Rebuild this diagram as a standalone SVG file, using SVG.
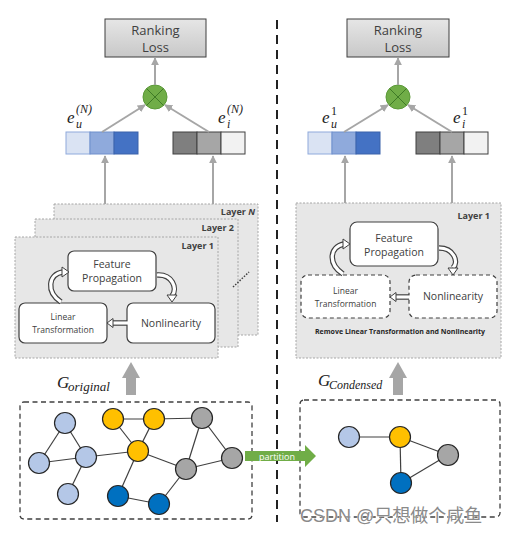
<svg xmlns="http://www.w3.org/2000/svg" width="507" height="535" viewBox="0 0 507 535">
<defs>
<linearGradient id="lossg" x1="0" y1="0" x2="0" y2="1"><stop offset="0" stop-color="#e6e6e6"/><stop offset="1" stop-color="#c8c8c8"/></linearGradient>
<marker id="ah" viewBox="0 0 10 10" refX="9" refY="5" markerWidth="4" markerHeight="4" orient="auto"><path d="M0,0 L10,5 L0,10 z" fill="#a6a6a6"/></marker>
</defs>
<style>
.loss{fill:url(#lossg);stroke:#3f3f3f;stroke-width:1}
.lt{font-family:"Open Sans","Noto Sans",sans-serif;font-size:13px;fill:#404040;text-anchor:middle}
.conn{stroke:#a6a6a6;stroke-width:2;fill:none;marker-end:url(#ah)}
.layer{fill:#e7e7e7;stroke:#a6a6a6;stroke-width:1;stroke-dasharray:2 1.5}
.lname{font-family:"Open Sans","Noto Sans",sans-serif;font-size:9px;font-weight:bold;fill:#404040;text-anchor:end}
.box{fill:#fff;stroke:#404040;stroke-width:1.2}
.dbox{fill:#fff;stroke:#404040;stroke-width:1.2;stroke-dasharray:4 3}
.bt{font-family:"Open Sans","Noto Sans",sans-serif;font-size:10.5px;fill:#404040;text-anchor:middle}
.st{font-family:"Open Sans","Noto Sans",sans-serif;font-size:8.5px;fill:#404040;text-anchor:middle}
.math{font-family:"Liberation Serif",serif;font-style:italic;fill:#222}
.up{font-family:"Liberation Serif",serif;fill:#222}
.hol1{fill:none;stroke:#404040;stroke-width:5.5}
.hol2{fill:none;stroke:#fff;stroke-width:3.2}
.head{fill:#fff;stroke:#404040;stroke-width:1}
.edge{stroke:#404040;stroke-width:1.2}
.n{stroke:#262626;stroke-width:1.2}
.lb{fill:#b4c7e7}.yl{fill:#ffc000}.gr{fill:#a6a6a6}.db{fill:#0070c0}
.gbox{fill:none;stroke:#404040;stroke-width:1.3;stroke-dasharray:5 3.5}
</style>
<rect width="507" height="535" fill="#fff"/>
<line x1="277" y1="20" x2="277" y2="522" stroke="#222" stroke-width="2" stroke-dasharray="9 6"/>

<g id="loss-left"><rect class="loss" x="105" y="19" width="101" height="38"/><text class="lt" x="155.5" y="35">Ranking</text><text class="lt" x="155.5" y="52">Loss</text></g>
<g id="mul-left"><circle cx="155" cy="97" r="12" fill="#70ad47" stroke="#5b9a38" stroke-width="1"/><line x1="146.5" y1="88.5" x2="163.5" y2="105.5" stroke="#3f7a26" stroke-width="1"/><line x1="163.5" y1="88.5" x2="146.5" y2="105.5" stroke="#3f7a26" stroke-width="1"/></g>
<g id="eu-left"><rect x="66" y="132" width="24" height="22" fill="#dae3f3" stroke="#8faadc"/><rect x="90" y="132" width="24" height="22" fill="#8faadc" stroke="#6f8fcc"/><rect x="114" y="132" width="24" height="22" fill="#4472c4" stroke="#3a62aa"/>
<text class="math" x="67" y="123" font-size="17">e</text><text class="math" x="76" y="128" font-size="12">u</text><text class="math" x="76" y="113" font-size="12">(N)</text></g>
<g id="ei-left"><rect x="173" y="132" width="24" height="22" fill="#7f7f7f" stroke="#404040"/><rect x="197" y="132" width="24" height="22" fill="#a6a6a6" stroke="#404040"/><rect x="221" y="132" width="24" height="22" fill="#f2f2f2" stroke="#404040"/>
<text class="math" x="218" y="123" font-size="17">e</text><text class="math" x="227" y="128" font-size="12">i</text><text class="math" x="227" y="113" font-size="12">(N)</text></g>

<g id="layers-left">
<rect class="layer" x="54" y="204" width="204" height="131"/><text class="lname" x="255" y="215">Layer <tspan font-style="italic">N</tspan></text>
<rect class="layer" x="35" y="219" width="203" height="128"/><text class="lname" x="234" y="231">Layer 2</text>
<rect class="layer" x="15" y="237" width="203" height="121"/><text class="lname" x="214" y="249">Layer 1</text>
<line x1="233" y1="287" x2="249" y2="272" stroke="#404040" stroke-width="1.5" stroke-dasharray="1.5 1.5"/>
</g>
<g id="fp-left"><rect class="box" x="68" y="251" width="88" height="40" rx="6"/><text class="bt" x="112" y="268">Feature</text><text class="bt" x="112" y="282">Propagation</text></g>
<g id="lin-left"><rect class="box" x="19" y="303" width="88" height="40" rx="6"/><text class="st" x="63" y="320">Linear</text><text class="st" x="63" y="333">Transformation</text></g>
<g id="non-left"><rect class="box" x="127" y="303" width="88" height="40" rx="6"/><text class="bt" x="171" y="327">Nonlinearity</text></g>

<g id="loss-right"><rect class="loss" x="347" y="19" width="102" height="38"/><text class="lt" x="398" y="35">Ranking</text><text class="lt" x="398" y="52">Loss</text></g>
<g id="mul-right"><circle cx="398" cy="97" r="12" fill="#70ad47" stroke="#5b9a38" stroke-width="1"/><line x1="389.5" y1="88.5" x2="406.5" y2="105.5" stroke="#3f7a26" stroke-width="1"/><line x1="406.5" y1="88.5" x2="389.5" y2="105.5" stroke="#3f7a26" stroke-width="1"/></g>
<g id="eu-right"><rect x="308" y="132" width="24" height="22" fill="#dae3f3" stroke="#8faadc"/><rect x="332" y="132" width="24" height="22" fill="#8faadc" stroke="#6f8fcc"/><rect x="356" y="132" width="24" height="22" fill="#4472c4" stroke="#3a62aa"/>
<text class="math" x="322" y="123" font-size="17">e</text><text class="math" x="331" y="128" font-size="12">u</text><text class="up" x="331" y="115" font-size="12">1</text></g>
<g id="ei-right"><rect x="416" y="132" width="24" height="22" fill="#7f7f7f" stroke="#404040"/><rect x="440" y="132" width="24" height="22" fill="#a6a6a6" stroke="#404040"/><rect x="464" y="132" width="24" height="22" fill="#f2f2f2" stroke="#404040"/>
<text class="math" x="453" y="123" font-size="17">e</text><text class="math" x="462" y="128" font-size="12">i</text><text class="up" x="462" y="115" font-size="12">1</text></g>

<g id="layer-right">
<rect class="layer" x="296" y="203" width="205" height="155"/><text class="lname" x="490" y="219">Layer 1</text>
<text x="400" y="334" font-family="'Open Sans','Noto Sans',sans-serif" font-size="7" font-weight="bold" fill="#262626" text-anchor="middle">Remove Linear Transformation and Nonlinearity</text>
</g>
<g id="fp-right"><rect class="box" x="350" y="222" width="88" height="44" rx="7"/><text class="bt" x="394" y="242">Feature</text><text class="bt" x="394" y="256">Propagation</text></g>
<g id="lin-right"><rect class="dbox" x="301" y="275" width="89" height="43" rx="7"/><text class="st" x="345.5" y="294">Linear</text><text class="st" x="345.5" y="307">Transformation</text></g>
<g id="non-right"><rect class="dbox" x="409" y="275" width="88" height="43" rx="7"/><text class="bt" x="453" y="300">Nonlinearity</text></g>

<g id="graph-original">
<rect class="gbox" x="20" y="402" width="232" height="117" rx="4"/>
<g class="edge">
<line x1="65" y1="423" x2="39" y2="463"/><line x1="65" y1="423" x2="86" y2="457"/><line x1="39" y1="463" x2="86" y2="457"/><line x1="86" y1="457" x2="68" y2="494"/><line x1="86" y1="457" x2="138" y2="451"/>
<line x1="113" y1="419" x2="154" y2="419"/><line x1="113" y1="419" x2="138" y2="451"/><line x1="154" y1="419" x2="138" y2="451"/><line x1="154" y1="419" x2="202" y2="418"/>
<line x1="138" y1="451" x2="186" y2="469"/><line x1="202" y1="418" x2="186" y2="469"/><line x1="202" y1="418" x2="232" y2="458"/><line x1="232" y1="458" x2="186" y2="469"/>
<line x1="138" y1="451" x2="118" y2="496"/><line x1="118" y1="496" x2="159" y2="504"/><line x1="159" y1="504" x2="186" y2="469"/>
</g>
<circle class="n lb" cx="65" cy="423" r="10.5"/><circle class="n lb" cx="39" cy="463" r="10.5"/><circle class="n lb" cx="86" cy="457" r="10.5"/><circle class="n lb" cx="68" cy="494" r="10.5"/>
<circle class="n yl" cx="113" cy="419" r="10.5"/><circle class="n yl" cx="154" cy="419" r="10.5"/><circle class="n yl" cx="138" cy="451" r="10.5"/>
<circle class="n gr" cx="202" cy="418" r="10.5"/><circle class="n gr" cx="232" cy="458" r="10.5"/><circle class="n gr" cx="186" cy="469" r="10.5"/>
<circle class="n db" cx="118" cy="496" r="10.5"/><circle class="n db" cx="159" cy="504" r="10.5"/>
</g>
<g id="graph-condensed">
<rect class="gbox" x="300" y="400" width="200" height="117" rx="4"/>
<g class="edge"><line x1="349" y1="437" x2="400" y2="437"/><line x1="400" y1="437" x2="448" y2="455"/><line x1="400" y1="437" x2="401" y2="483"/><line x1="401" y1="483" x2="448" y2="455"/></g>
<circle class="n lb" cx="349" cy="437" r="10.5"/><circle class="n yl" cx="400" cy="437" r="10.5"/><circle class="n gr" cx="448" cy="455" r="10.5"/><circle class="n db" cx="401" cy="483" r="10.5"/>
</g>

<g id="connectors">
<line class="conn" x1="155" y1="85" x2="155" y2="58"/>
<line class="conn" x1="102" y1="132" x2="145" y2="105"/>
<line class="conn" x1="209" y1="132" x2="165" y2="105"/>
<line class="conn" x1="105" y1="204" x2="105" y2="156"/>
<line class="conn" x1="213" y1="204" x2="213" y2="156"/>
<line class="conn" x1="398" y1="85" x2="398" y2="58"/>
<line class="conn" x1="344" y1="132" x2="388" y2="105"/>
<line class="conn" x1="452" y1="132" x2="408" y2="105"/>
<line class="conn" x1="345" y1="203" x2="345" y2="156"/>
<line class="conn" x1="452" y1="203" x2="452" y2="156"/>
<path class="hol1" d="M61,302 C46,292 48,274 63,272"/><path class="hol2" d="M61,302 C46,292 48,274 63,272"/>
<polygon class="head" points="62,267 69,272 62,277"/>
<path class="hol1" d="M157,275 C172,274 178,288 172,296"/><path class="hol2" d="M157,275 C172,274 178,288 172,296"/>
<polygon class="head" points="167,295 172,302 177,295"/>
<path class="hol1" d="M127,323 L113,323"/><path class="hol2" d="M128,323 L113,323"/>
<polygon class="head" points="113,318.5 107,323 113,327.5"/>
<path class="hol1" d="M343,274 C328,264 329,247 344,244"/><path class="hol2" d="M343,274 C328,264 329,247 344,244"/>
<polygon class="head" points="343,239 350,244 343,249"/>
<path class="hol1" d="M439,248 C454,248 459,262 453,268"/><path class="hol2" d="M439,248 C454,248 459,262 453,268"/>
<polygon class="head" points="448,268 453,275 458,268"/>
<path class="hol1" d="M409,297 L396,297"/><path class="hol2" d="M410,297 L396,297"/>
<polygon class="head" points="396,292.5 390,297 396,301.5"/>
<polygon points="126,395 136,395 136,378 140,378 131,362 122,378 126,378" fill="#a6a6a6"/>
<polygon points="393,395 403,395 403,378 407,378 398,362 389,378 393,378" fill="#a6a6a6"/>
<polygon points="245,451 305,451 305,445 316,456 305,467 305,461 245,461" fill="#70ad47"/>
<text x="277" y="460" font-family="'Open Sans','Noto Sans',sans-serif" font-size="9" fill="#fff" text-anchor="middle">partition</text>
</g>
<text class="math" x="57" y="388" font-size="17">G</text><text class="math" x="68" y="391" font-size="13">original</text>
<text class="math" x="318" y="386" font-size="17">G</text><text class="math" x="329" y="389" font-size="12">Condensed</text>
<text x="300" y="522" font-family="'Liberation Sans','Noto Sans CJK SC',sans-serif" font-size="18" fill="#8a8a8a" stroke="#fff" stroke-width="0.6" paint-order="stroke">CSDN @只想做个咸鱼</text>
</svg>
